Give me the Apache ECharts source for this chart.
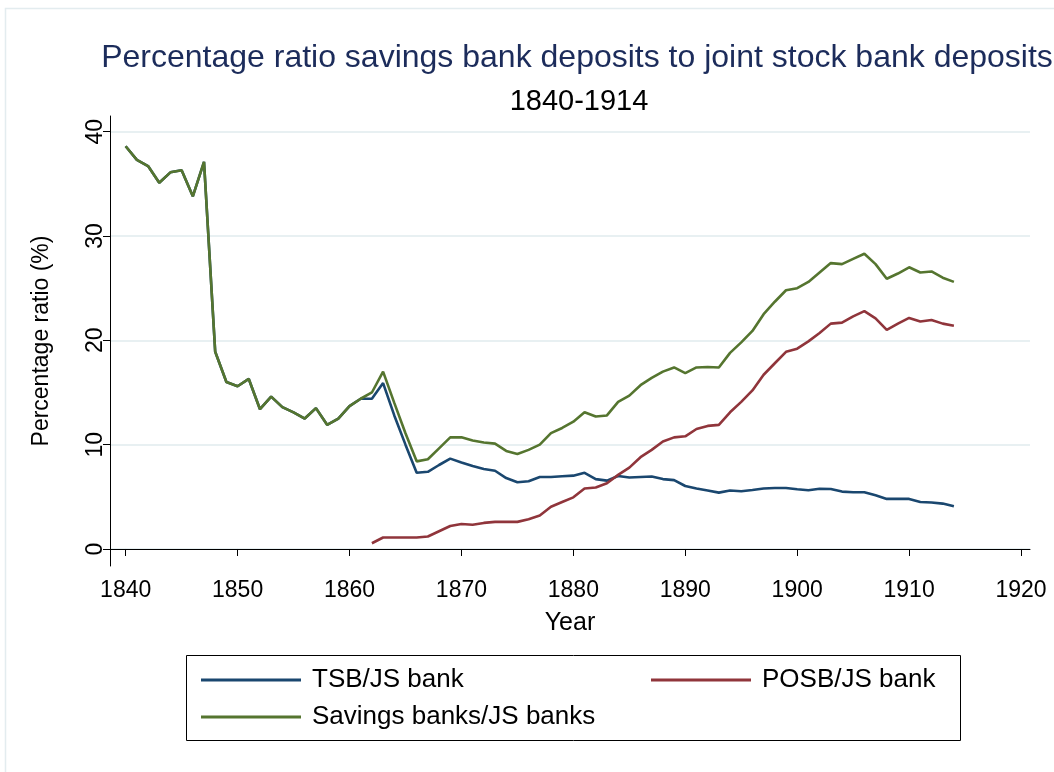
<!DOCTYPE html>
<html lang="en">
<head>
    <meta charset="UTF-8">
    <title>Percentage ratio savings bank deposits to joint stock bank deposits</title>
    <script src="https://cdn.jsdelivr.net/npm/echarts@6.0.0/dist/echarts.min.js"></script>
    <style>
        html, body { margin: 0; padding: 0; background: #fff; }
        #chart { width: 1054px; height: 772px; }
    </style>
</head>
<body>
    <div id="chart"></div>

    <script>
        // data
        const years = [1840, 1841, 1842, 1843, 1844, 1845, 1846, 1847, 1848, 1849,
            1850, 1851, 1852, 1853, 1854, 1855, 1856, 1857, 1858, 1859,
            1860, 1861, 1862, 1863, 1864, 1865, 1866, 1867, 1868, 1869,
            1870, 1871, 1872, 1873, 1874, 1875, 1876, 1877, 1878, 1879,
            1880, 1881, 1882, 1883, 1884, 1885, 1886, 1887, 1888, 1889,
            1890, 1891, 1892, 1893, 1894, 1895, 1896, 1897, 1898, 1899,
            1900, 1901, 1902, 1903, 1904, 1905, 1906, 1907, 1908, 1909,
            1910, 1911, 1912, 1913, 1914];

        const tsb = [38.6, 37.3, 36.7, 35.1, 36.1, 36.3, 33.8, 37.1, 18.9, 16.0,
            15.6, 16.3, 13.4, 14.6, 13.6, 13.1, 12.5, 13.5, 11.9, 12.5,
            13.7, 14.4, 14.4, 15.9, 12.8, 10.0, 7.3, 7.4, 8.05, 8.66,
            8.3, 7.96, 7.67, 7.5, 6.8, 6.4, 6.5, 6.9, 6.9, 6.97,
            7.03, 7.3, 6.7, 6.55, 7.0, 6.85, 6.9, 6.95, 6.7, 6.6,
            6.04, 5.8, 5.6, 5.4, 5.6, 5.53, 5.66, 5.8, 5.85, 5.85,
            5.72, 5.63, 5.78, 5.75, 5.5, 5.44, 5.44, 5.15, 4.8, 4.8,
            4.8, 4.5, 4.45, 4.35, 4.1];

        // POSB starts in 1862
        const posbStart = 1862;
        const posb = [0.55, 1.1, 1.1, 1.1, 1.1, 1.2, 1.7, 2.2,
            2.4, 2.33, 2.5, 2.6, 2.6, 2.6, 2.85, 3.2, 4.05, 4.5,
            4.95, 5.8, 5.9, 6.3, 7.1, 7.8, 8.8, 9.5, 10.3, 10.7,
            10.8, 11.5, 11.8, 11.9, 13.1, 14.1, 15.2, 16.7, 17.8, 18.9,
            19.2, 19.9, 20.7, 21.6, 21.7, 22.3, 22.8, 22.1, 21.0, 21.6,
            22.15, 21.8, 21.95, 21.6, 21.4];

        const savings = [38.6, 37.3, 36.7, 35.1, 36.1, 36.3, 33.8, 37.1, 18.9, 16.0,
            15.6, 16.3, 13.4, 14.6, 13.6, 13.1, 12.5, 13.5, 11.9, 12.5,
            13.7, 14.4, 15.0, 17.0, 14.0, 11.1, 8.4, 8.6, 9.65, 10.7,
            10.7, 10.4, 10.2, 10.1, 9.4, 9.1, 9.5, 10.0, 11.1, 11.6,
            12.2, 13.1, 12.7, 12.8, 14.1, 14.7, 15.7, 16.4, 17.0, 17.4,
            16.85, 17.4, 17.45, 17.4, 18.8, 19.8, 20.9, 22.5, 23.7, 24.8,
            25.0, 25.6, 26.5, 27.4, 27.3, 27.8, 28.3, 27.3, 25.9, 26.4,
            27.0, 26.5, 26.6, 26.0, 25.6];

        const xTicks = [1840, 1850, 1860, 1870, 1880, 1890, 1900, 1910, 1920];
        const yTicks = [0, 10, 20, 30, 40];

        const font = '"Liberation Sans", Arial, sans-serif';
        const colTsb = '#1a476f';
        const colPosb = '#90353b';
        const colSav = '#55752f';

        function pairs(xs, vs) {
            return vs.map((v, i) => [xs[i], v]);
        }
        const posbYears = years.slice(years.indexOf(posbStart));

        const chart = echarts.init(document.getElementById('chart'));

        const legendText = { fontFamily: font, fontSize: 26, lineHeight: 26, color: '#000', padding: [0, 0, 0, 6] };

        const option = {
            backgroundColor: '#ffffff',
            animation: false,
            textStyle: { fontFamily: font },
            title: [
                {
                    text: 'Percentage ratio savings bank deposits to joint stock bank deposits',
                    left: 572, top: 37, textAlign: 'center',
                    textStyle: { fontFamily: font, fontSize: 32, fontWeight: 'normal', color: '#1c2c5b' }
                },
                {
                    text: '1840-1914',
                    left: 574, top: 82, textAlign: 'center',
                    textStyle: { fontFamily: font, fontSize: 29, fontWeight: 'normal', color: '#000' }
                }
            ],
            legend: [
                {
                    orient: 'vertical',
                    left: 196, top: 662,
                    icon: 'rect',
                    itemWidth: 100, itemHeight: 3, itemGap: 11,
                    data: ['TSB/JS bank', 'Savings banks/JS banks'],
                    textStyle: legendText
                },
                {
                    orient: 'vertical',
                    left: 646, top: 662,
                    icon: 'rect',
                    itemWidth: 100, itemHeight: 3,
                    data: ['POSB/JS bank'],
                    textStyle: legendText
                }
            ],
            graphic: [
                {
                    type: 'rect', silent: true,
                    shape: { x: 5.5, y: 8.5, width: 1060, height: 780 },
                    style: { fill: 'none', stroke: '#e3ecef', lineWidth: 1.5 }
                },
                {
                    type: 'rect', silent: true,
                    shape: { x: 186.5, y: 655.5, width: 774, height: 85 },
                    style: { fill: 'none', stroke: '#000', lineWidth: 1 }
                }
            ],
            grid: { left: 110, right: 24, top: 116, bottom: 206 },
            xAxis: {
                type: 'value',
                min: 1838.6, max: 1920.8,
                name: 'Year',
                nameLocation: 'middle',
                nameGap: 45,
                nameTextStyle: { fontFamily: font, fontSize: 25, color: '#000' },
                axisLine: { show: true, lineStyle: { color: '#000', width: 1 } },
                axisTick: { show: true, length: 7, customValues: xTicks, lineStyle: { color: '#000' } },
                axisLabel: {
                    customValues: xTicks, margin: 13, fontFamily: font, fontSize: 23, color: '#000',
                    formatter: v => String(v)
                },
                splitLine: { show: false }
            },
            yAxis: {
                type: 'value',
                min: -1.63, max: 41.5,
                name: 'Percentage ratio (%)',
                nameLocation: 'middle',
                nameGap: 57,
                nameRotate: 90,
                nameTextStyle: { fontFamily: font, fontSize: 23, color: '#000' },
                axisLine: { show: true, lineStyle: { color: '#000', width: 1 } },
                axisTick: { show: true, length: 7, customValues: yTicks, lineStyle: { color: '#000' } },
                axisLabel: { customValues: yTicks, rotate: 90, margin: 3, fontFamily: font, fontSize: 23, color: '#000' },
                splitLine: { show: true, lineStyle: { color: '#e8f0f2', width: 2 } }
            },
            series: [
                {
                    name: 'TSB/JS bank', type: 'line', symbol: 'none',
                    data: pairs(years, tsb),
                    lineStyle: { color: colTsb, width: 2.6 },
                    itemStyle: { color: colTsb }
                },
                {
                    name: 'POSB/JS bank', type: 'line', symbol: 'none',
                    data: pairs(posbYears, posb),
                    lineStyle: { color: colPosb, width: 2.6 },
                    itemStyle: { color: colPosb }
                },
                {
                    name: 'Savings banks/JS banks', type: 'line', symbol: 'none',
                    data: pairs(years, savings),
                    lineStyle: { color: colSav, width: 2.6 },
                    itemStyle: { color: colSav }
                }
            ]
        };

        chart.setOption(option);
    </script>
</body>
</html>
